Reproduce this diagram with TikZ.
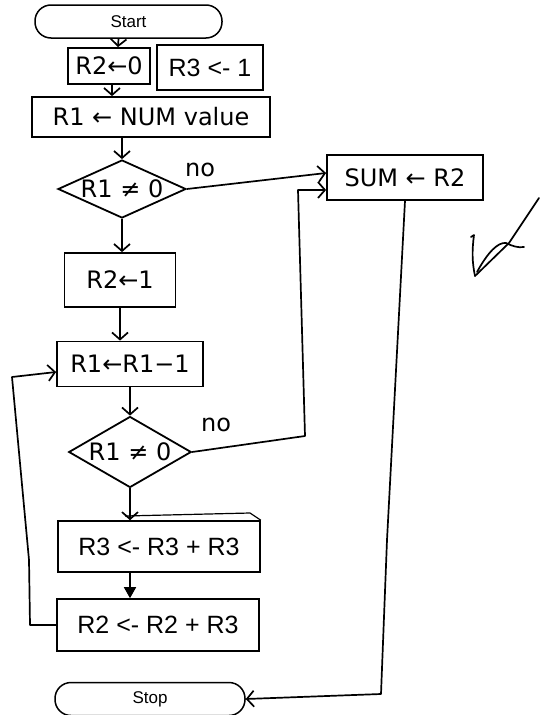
\documentclass[tikz,border=0pt]{standalone}
\usepackage{fontspec}
\setmainfont{Liberation Sans}
\newfontfamily\handfont{DejaVu Sans}
\usetikzlibrary{arrows.meta,shapes.geometric}

\begin{document}
\begin{tikzpicture}[x=1pt,y=-1pt,
  handbox/.style={draw,line width=1.8pt,inner sep=0pt,
    font=\handfont\fontsize{24}{28}\selectfont},
  typebox/.style={draw,line width=1.6pt,inner sep=0pt,
    font=\fontsize{25}{30}\selectfont},
  terminal/.style={draw,line width=1.5pt,rounded corners=16pt,inner sep=0pt,
    minimum height=33pt,font=\fontsize{17}{20}\selectfont},
  decision/.style={draw,diamond,shape aspect=2.2,line width=1.8pt,inner sep=0pt,
    font=\handfont\fontsize{24}{28}\selectfont},
  handlabel/.style={font=\handfont\fontsize{24}{28}\selectfont,inner sep=0pt},
  flow/.style={line width=1.7pt,-{Straight Barb[length=7pt,width=16pt]}},
  solidflow/.style={line width=1.6pt,-{Triangle[length=11pt,width=12pt]}},
  pen/.style={line width=1.7pt,line cap=round,line join=round}]

\useasboundingbox (0,0) rectangle (540,715);

% terminals
\node[terminal,minimum width=187pt] (start) at (128.5,21.5) {Start};
\node[terminal,minimum width=190pt] (stop) at (150,699) {Stop};

% initialisation
\node[handbox,minimum width=82pt,minimum height=36pt] (r2z) at (109,66) {R2←0};
\node[typebox,minimum width=106pt,minimum height=45pt] (r3one) at (210,67.5) {R3 <- 1};
\node[handbox,minimum width=238pt,minimum height=40pt] (r1num) at (151,117) {R1 ← NUM value};

% first test
\node[decision,minimum width=128pt,minimum height=58pt] (d1) at (122,189) {R1 ≠ 0};
\node[handbox,minimum width=156pt,minimum height=45pt] (sum) at (405,177.5) {SUM ← R2};

% loop body
\node[handbox,minimum width=111pt,minimum height=54pt] (r2one) at (120,280) {R2←1};
\node[handbox,minimum width=146pt,minimum height=45pt] (r1dec) at (130,364) {R1←R1−1};
\node[decision,minimum width=116pt,minimum height=71pt] (d2) at (130,452) {R1 ≠ 0};
\node[typebox,minimum width=202pt,minimum height=51pt] (r3sum) at (159,546.5) {R3 <- R3 + R3};
\node[typebox,minimum width=202pt,minimum height=52pt] (r2sum) at (158,625) {R2 <- R2 + R3};

% labels on the exits
\node[handlabel] (no1) at (200,170) {no};
\node[handlabel] (no2) at (216,425) {no};

% connectors
\draw[flow] ([xshift=-10pt]start.south) -- ([xshift=9pt]r2z.north);
\draw[flow] ([xshift=3pt]r2z.south) -- ([xshift=3pt]r2z.south |- r1num.north);
\draw[flow] (d1.north |- r1num.south) -- (d1.north);
\draw[flow] (d1.east) -- ([yshift=4.5pt]sum.west);
\draw[flow] (d1.south) -- (d1.south |- r2one.north);
\draw[flow] (r2one.south) -- (r2one.south |- r1dec.north);
\draw[flow] (r1dec.south) -- (d2.north);
\draw[flow] (d2.south) -- (d2.south |- r3sum.north);
\draw[solidflow] (d2.south |- r3sum.south) -- (d2.south |- r2sum.north);

% back edge of the loop
\coordinate (lpA) at (30,625);
\coordinate (lpB) at (29,560);
\coordinate (lpC) at (12,377);
\draw[flow,line join=round] (r2sum.west) -- (lpA) -- (lpB) -- (lpC) -- ([yshift=-8pt]r1dec.west);

% second exit to the sum box
\coordinate (exA) at (305,436);
\coordinate (exB) at (298,190);
\draw[flow,line join=round] (d2.east) -- (exA) -- (exB) -- ([yshift=-12.5pt]sum.west);

% from the sum box down to stop
\coordinate (dnA) at (387,540);
\coordinate (dnB) at (381,694);
\draw[flow,line join=round] (sum.south) -- (dnA) -- (dnB) -- (stop.east);

% extra stroke over the top edge
\draw[line width=1.2pt] (125,516) -- (250,513) -- (r3sum.north east);

% check mark
\draw[pen] (471,237) -- (474,235) .. controls (472,250) and (472,262) .. (475,276);
\draw[pen] (475,276) -- (509,243) -- (539,198);
\draw[pen] (477,272) .. controls (488,252) and (498,242) .. (506,243)
  .. controls (512,246) and (518,248) .. (524,247);
\end{tikzpicture}
\end{document}
